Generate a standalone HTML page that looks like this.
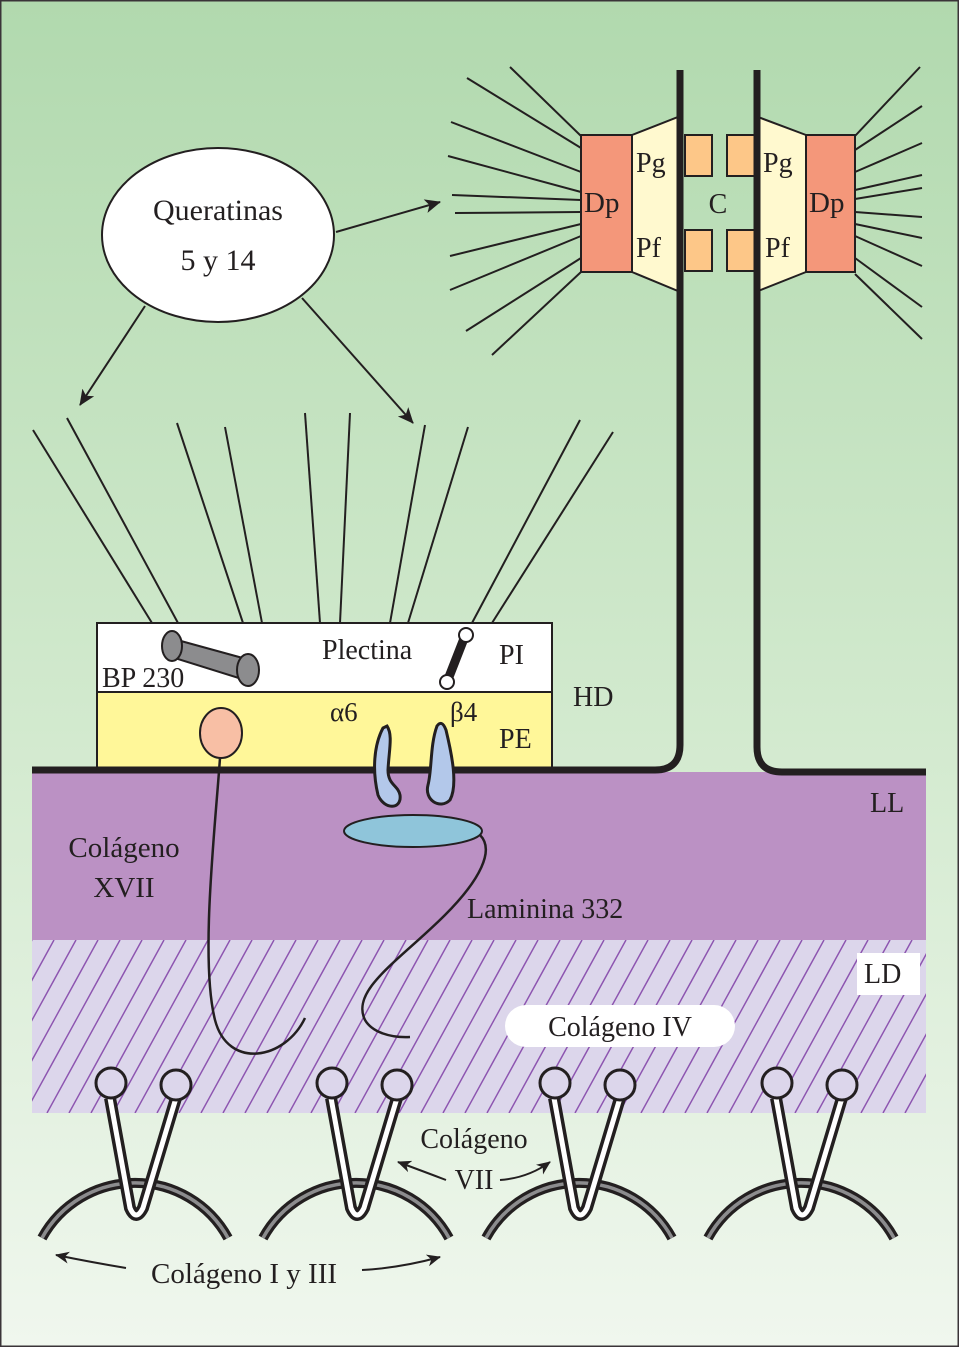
<!DOCTYPE html>
<html><head><meta charset="utf-8"><style>
html,body{margin:0;padding:0;background:#fff}
svg{display:block}
text{font-family:"Liberation Serif",serif;fill:#231f20}
</style></head><body>
<svg width="959" height="1347" viewBox="0 0 959 1347" xmlns="http://www.w3.org/2000/svg">
<defs>
<linearGradient id="bg" x1="0" y1="0" x2="0" y2="1">
<stop offset="0" stop-color="#b1d9ae"/>
<stop offset="0.55" stop-color="#d3eacf"/>
<stop offset="1" stop-color="#f0f7ee"/>
</linearGradient>
<marker id="ah" markerWidth="14" markerHeight="12" refX="13" refY="6" orient="auto" markerUnits="userSpaceOnUse">
<path d="M0,0 L14,6 L0,12 L4,6 Z" fill="#231f20"/>
</marker>
<marker id="ah2" markerWidth="16" markerHeight="14" refX="15" refY="7" orient="auto" markerUnits="userSpaceOnUse">
<path d="M0,0 L16,7 L0,14 L4,7 Z" fill="#231f20"/>
</marker>
<pattern id="hatch" patternUnits="userSpaceOnUse" width="22" height="173" x="32" y="940">
<line x1="-95" y1="173" x2="0" y2="0" stroke="#8d55b0" stroke-width="1.5"/>
<line x1="-73" y1="173" x2="22" y2="0" stroke="#8d55b0" stroke-width="1.5"/>
<line x1="-51" y1="173" x2="44" y2="0" stroke="#8d55b0" stroke-width="1.5"/>
<line x1="-29" y1="173" x2="66" y2="0" stroke="#8d55b0" stroke-width="1.5"/>
<line x1="-7" y1="173" x2="88" y2="0" stroke="#8d55b0" stroke-width="1.5"/>
<line x1="15" y1="173" x2="110" y2="0" stroke="#8d55b0" stroke-width="1.5"/>
</pattern>
</defs>
<rect x="0" y="0" width="959" height="1347" fill="url(#bg)"/>
<rect x="0.5" y="0.5" width="958" height="1346" fill="none" stroke="#3a3438" stroke-width="2"/>

<!-- LL -->
<rect x="32" y="772" width="894" height="168" fill="#bb91c4"/>
<!-- LD -->
<rect x="32" y="940" width="894" height="173" fill="#dcd6eb"/>
<rect x="32" y="940" width="894" height="173" fill="url(#hatch)"/>

<text x="870" y="812" font-size="28">LL</text>
<rect x="857" y="953" width="63" height="42" fill="#fff"/>
<text x="864" y="983" font-size="28">LD</text>
<rect x="505" y="1005" width="230" height="42" rx="21" fill="#fff"/>
<text x="620" y="1036" font-size="28" text-anchor="middle">Colágeno IV</text>

<!-- Keratin ellipse -->
<ellipse cx="218" cy="235" rx="116" ry="87" fill="#fff" stroke="#231f20" stroke-width="2"/>
<text x="218" y="220" font-size="30" text-anchor="middle">Queratinas</text>
<text x="218" y="270" font-size="30" text-anchor="middle">5 y 14</text>
<g stroke="#231f20" stroke-width="2" fill="none">
<line x1="336" y1="232" x2="440" y2="202" marker-end="url(#ah2)"/>
<line x1="145" y1="306" x2="80" y2="405" marker-end="url(#ah2)"/>
<line x1="302" y1="298" x2="413" y2="423" marker-end="url(#ah2)"/>
</g>

<g stroke="#231f20" stroke-width="2">
<line x1="33" y1="430" x2="152" y2="623"/>
<line x1="67" y1="418" x2="178" y2="623"/>
<line x1="177" y1="423" x2="243" y2="623"/>
<line x1="225" y1="427" x2="262" y2="623"/>
<line x1="305" y1="413" x2="320" y2="623"/>
<line x1="350" y1="413" x2="340" y2="623"/>
<line x1="425" y1="425" x2="390" y2="623"/>
<line x1="468" y1="427" x2="408" y2="623"/>
<line x1="580" y1="420" x2="472" y2="623"/>
<line x1="613" y1="432" x2="492" y2="623"/>
</g>

<g stroke="#231f20" stroke-width="2">
<line x1="581" y1="136" x2="510" y2="67"/>
<line x1="581" y1="148" x2="467" y2="78"/>
<line x1="581" y1="172" x2="451" y2="122"/>
<line x1="581" y1="192" x2="448" y2="156"/>
<line x1="581" y1="200" x2="452" y2="195"/>
<line x1="581" y1="212" x2="455" y2="213"/>
<line x1="581" y1="224" x2="450" y2="256"/>
<line x1="581" y1="236" x2="450" y2="290"/>
<line x1="581" y1="258" x2="466" y2="331"/>
<line x1="581" y1="272" x2="492" y2="355"/>
<line x1="855" y1="136" x2="920" y2="67"/>
<line x1="855" y1="150" x2="922" y2="106"/>
<line x1="855" y1="172" x2="922" y2="143"/>
<line x1="855" y1="190" x2="922" y2="175"/>
<line x1="855" y1="199" x2="922" y2="188"/>
<line x1="855" y1="212" x2="922" y2="217"/>
<line x1="855" y1="224" x2="922" y2="238"/>
<line x1="855" y1="236" x2="922" y2="266"/>
<line x1="855" y1="258" x2="922" y2="307"/>
<line x1="855" y1="274" x2="922" y2="339"/>
</g>
<g stroke="#231f20" stroke-width="2">
<rect x="581" y="135" width="51" height="137" fill="#f4977a"/>
<path d="M632,135 L678,117 L678,291 L632,272 Z" fill="#fff9cf"/>
<rect x="685" y="135" width="27" height="41" fill="#fdc788"/>
<rect x="685" y="230" width="27" height="41" fill="#fdc788"/>
<rect x="727" y="135" width="28" height="41" fill="#fdc788"/>
<rect x="727" y="230" width="28" height="41" fill="#fdc788"/>
<path d="M806,135 L758,117 L758,291 L806,272 Z" fill="#fff9cf"/>
<rect x="806" y="135" width="49" height="137" fill="#f4977a"/>
</g>
<text x="584" y="212" font-size="29">Dp</text>
<text x="809" y="212" font-size="29">Dp</text>
<text x="636" y="172" font-size="28">Pg</text>
<text x="763" y="172" font-size="28">Pg</text>
<text x="636" y="257" font-size="28">Pf</text>
<text x="765" y="257" font-size="28">Pf</text>
<text x="718" y="213" font-size="28" text-anchor="middle">C</text>

<rect x="97" y="623" width="455" height="69" fill="#fff" stroke="#231f20" stroke-width="2"/>
<rect x="97" y="692" width="455" height="76" fill="#fff799" stroke="#231f20" stroke-width="2"/>
<text x="573" y="706" font-size="28">HD</text>
<text x="499" y="664" font-size="28">PI</text>
<text x="499" y="748" font-size="28">PE</text>
<text x="322" y="659" font-size="28">Plectina</text>
<text x="102" y="687" font-size="28">BP 230</text>
<text x="330" y="721" font-size="27">α6</text>
<text x="450" y="721" font-size="27">β4</text>
<path d="M170,638 L250,660 L245,680 L165,655 Z" fill="#8c8c8e" stroke="#231f20" stroke-width="2"/>
<ellipse cx="172" cy="646" rx="10" ry="15" fill="#8c8c8e" stroke="#231f20" stroke-width="2"/>
<ellipse cx="248" cy="670" rx="11" ry="16" fill="#8c8c8e" stroke="#231f20" stroke-width="2"/>
<line x1="465" y1="636" x2="447" y2="682" stroke="#231f20" stroke-width="9"/>
<circle cx="466" cy="635" r="7" fill="#fff" stroke="#231f20" stroke-width="2"/>
<circle cx="447" cy="682" r="7" fill="#fff" stroke="#231f20" stroke-width="2"/>

<path d="M32,770 L655,770 Q680,770 680,745 L680,70" fill="none" stroke="#231f20" stroke-width="7"/>
<path d="M926,772 L782,772 Q757,772 757,747 L757,70" fill="none" stroke="#231f20" stroke-width="7"/>

<ellipse cx="221" cy="733" rx="21" ry="25" fill="#f8bfa5" stroke="#231f20" stroke-width="2"/>
<path d="M220,758 C215,830 200,960 215,1020 C228,1070 285,1060 305,1018" fill="none" stroke="#231f20" stroke-width="2.5"/>
<text x="124" y="857" font-size="29" text-anchor="middle">Colágeno</text>
<text x="124" y="897" font-size="29" text-anchor="middle">XVII</text>

<path d="M383,728 C374,745 372,770 378,795 C384,810 402,810 400,795 C398,785 388,785 388,770 C389,750 393,735 387,726 Z" fill="#b3c8ea" stroke="#231f20" stroke-width="3"/>
<path d="M437,726 C430,745 432,770 428,785 C424,800 440,810 450,800 C458,785 452,755 446,730 C443,722 440,722 437,726 Z" fill="#b3c8ea" stroke="#231f20" stroke-width="3"/>
<ellipse cx="413" cy="831" rx="69" ry="16" fill="#8fc5da" stroke="#231f20" stroke-width="2"/>
<path d="M480,835 C495,850 480,880 445,915 C400,960 350,990 365,1020 C372,1032 390,1038 410,1037" fill="none" stroke="#231f20" stroke-width="2.5"/>
<text x="467" y="918" font-size="28">Laminina 332</text>

<g id="u1">
<path d="M42,1238 A106,106 0 0 1 228,1238" fill="none" stroke="#231f20" stroke-width="10"/>
<path d="M42,1238 A106,106 0 0 1 228,1238" fill="none" stroke="#8c8c8e" stroke-width="3.5"/>
<path d="M110,1098 L130,1208 Q136,1222 143,1208 L176,1098" fill="none" stroke="#231f20" stroke-width="12"/>
<path d="M110,1098 L130,1208 Q136,1222 143,1208 L176,1098" fill="none" stroke="#fff" stroke-width="5"/>
<circle cx="111" cy="1083" r="15" fill="#dcd6eb" stroke="#231f20" stroke-width="3"/>
<circle cx="176" cy="1085" r="15" fill="#dcd6eb" stroke="#231f20" stroke-width="3"/>
</g>
<use href="#u1" x="221"/>
<use href="#u1" x="444"/>
<use href="#u1" x="666"/>

<text x="474" y="1148" font-size="28" text-anchor="middle">Colágeno</text>
<text x="474" y="1189" font-size="28" text-anchor="middle">VII</text>
<g stroke="#231f20" stroke-width="2" fill="none">
<path d="M446,1180 Q425,1172 398,1162" marker-end="url(#ah)"/>
<path d="M500,1180 Q528,1178 550,1162" marker-end="url(#ah)"/>
<path d="M126,1268 Q90,1262 56,1255" marker-end="url(#ah)"/>
<path d="M362,1270 Q400,1268 440,1257" marker-end="url(#ah)"/>
</g>
<text x="244" y="1283" font-size="29" text-anchor="middle">Colágeno I y III</text>
</svg>
</body></html>
